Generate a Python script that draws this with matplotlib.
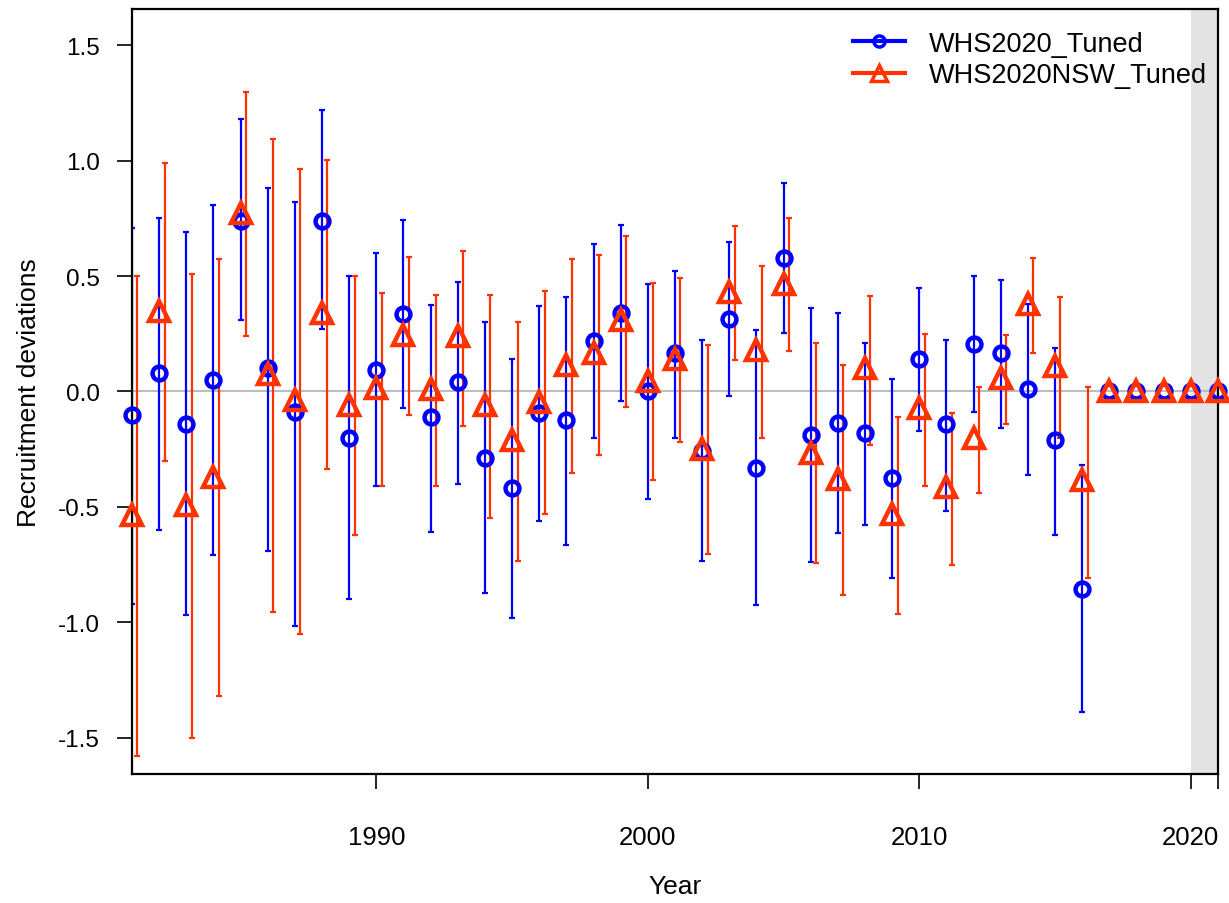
import numpy as np
import matplotlib
matplotlib.use("Agg")
from matplotlib import pyplot as plt
from matplotlib.lines import Line2D

plt.rcParams['font.family'] = ['Liberation Sans', 'DejaVu Sans']

# recruitment deviations by year
years = list(range(1981, 2022))

whs_dev = [-0.10, 0.08, -0.14, 0.05, 0.74, 0.10, -0.09, 0.74, -0.20, 0.095,
           0.335, -0.11, 0.04, -0.29, -0.42, -0.095, -0.125, 0.22, 0.34, 0.0,
           0.165, -0.26, 0.315, -0.33, 0.58, -0.19, -0.135, -0.18, -0.375, 0.14,
           -0.14, 0.205, 0.165, 0.01, -0.21, -0.855, 0, 0, 0, 0, 0]
whs_lo = [-0.92, -0.60, -0.97, -0.71, 0.31, -0.69, -1.015, 0.27, -0.90, -0.41,
          -0.07, -0.61, -0.40, -0.875, -0.98, -0.56, -0.665, -0.20, -0.04, -0.465,
          -0.20, -0.735, -0.02, -0.925, 0.255, -0.74, -0.615, -0.58, -0.81, -0.17,
          -0.52, -0.09, -0.16, -0.36, -0.62, -1.39]
whs_hi = [0.71, 0.75, 0.69, 0.81, 1.18, 0.88, 0.82, 1.22, 0.50, 0.60,
          0.745, 0.375, 0.475, 0.30, 0.14, 0.37, 0.41, 0.64, 0.72, 0.465,
          0.52, 0.225, 0.65, 0.265, 0.905, 0.36, 0.34, 0.21, 0.055, 0.45,
          0.225, 0.50, 0.485, 0.38, 0.19, -0.32]

nsw_dev = [-0.535, 0.35, -0.49, -0.37, 0.775, 0.075, -0.035, 0.34, -0.057, 0.015,
           0.245, 0.01, 0.24, -0.057, -0.21, -0.045, 0.115, 0.165, 0.31, 0.047,
           0.14, -0.25, 0.43, 0.18, 0.465, -0.265, -0.38, 0.10, -0.53, -0.073,
           -0.415, -0.20, 0.06, 0.38, 0.11, -0.385, 0, 0, 0, 0, 0]
nsw_lo = [-1.58, -0.30, -1.50, -1.32, 0.24, -0.957, -1.05, -0.335, -0.62, -0.41,
          -0.10, -0.41, -0.15, -0.55, -0.735, -0.53, -0.355, -0.275, -0.067, -0.385,
          -0.22, -0.705, 0.135, -0.20, 0.175, -0.745, -0.88, -0.23, -0.965, -0.41,
          -0.75, -0.44, -0.14, 0.165, -0.20, -0.81]
nsw_hi = [0.50, 0.99, 0.51, 0.575, 1.30, 1.095, 0.965, 1.005, 0.50, 0.425,
          0.585, 0.42, 0.61, 0.42, 0.30, 0.435, 0.575, 0.59, 0.675, 0.47,
          0.49, 0.20, 0.717, 0.545, 0.75, 0.21, 0.115, 0.415, -0.11, 0.25,
          -0.095, 0.02, 0.245, 0.577, 0.41, 0.02]

names = ["WHS2020_Tuned", "WHS2020NSW_Tuned"]
col_blue = "#0000FF"
col_red = "#FF3300"

fig = plt.figure(figsize=(12.29, 9.04), dpi=100)
ax = fig.add_axes([0.1074, 0.1427, 0.8836, 0.8463])

# forecast years shaded
ax.axvspan(2020, 2021.5, color="#e3e3e3", lw=0, zorder=0)
ax.axhline(0, color="#bdbdbd", lw=1.5, zorder=1)

yrs = np.array(years)
n_bar = len(whs_lo)

# error bars: red ones shifted a little to the right
ax.errorbar(yrs[:n_bar], whs_dev[:n_bar],
            yerr=[np.array(whs_dev[:n_bar]) - np.array(whs_lo), np.array(whs_hi) - np.array(whs_dev[:n_bar])],
            fmt="none", ecolor=col_blue, elinewidth=1.6, capsize=2.2, capthick=1.6, zorder=2)
ax.errorbar(yrs[:n_bar] + 0.2, nsw_dev[:n_bar],
            yerr=[np.array(nsw_dev[:n_bar]) - np.array(nsw_lo), np.array(nsw_hi) - np.array(nsw_dev[:n_bar])],
            fmt="none", ecolor=col_red, elinewidth=1.6, capsize=2.2, capthick=1.6, zorder=2)

ax.plot(yrs, whs_dev, ls="none", marker="o", ms=10, mfc="none", mec=col_blue, mew=3.2, zorder=3, clip_on=False)
ax.plot(yrs, nsw_dev, ls="none", marker="^", ms=14, mfc="none", mec=col_red, mew=3.2, zorder=4, clip_on=False)

ax.set_xlim(1981, 2021)
ax.set_ylim(-1.658, 1.658)
ax.set_xticks([1990, 2000, 2010, 2020, 2021])
ax.set_xticklabels(["1990", "2000", "2010", "2020", ""])
ax.set_yticks([-1.5, -1.0, -0.5, 0.0, 0.5, 1.0, 1.5])
ax.set_yticklabels(["-1.5", "-1.0", "-0.5", "0.0", "0.5", "1.0", "1.5"])
ax.tick_params(axis="both", direction="out", length=11, width=1.2)
ax.tick_params(axis="x", pad=26, labelsize=18.5)
ax.tick_params(axis="y", pad=12, labelsize=17.5)
for s in ax.spines.values():
    s.set_linewidth(1.6)

ax.set_xlabel("Year", fontsize=19, labelpad=18)
ax.set_ylabel("Recruitment deviations", fontsize=19, labelpad=12)

handles = [Line2D([], [], color=col_blue, lw=3, marker="o", ms=8, mfc="none", mew=2.5),
           Line2D([], [], color=col_red, lw=3, marker="^", ms=11, mfc="none", mew=2.5)]
ax.legend(handles, names, loc="upper right", frameon=False, fontsize=19.5,
          handlelength=1.9, handletextpad=0.9, borderaxespad=0.4, labelspacing=0.2,
          bbox_to_anchor=(1.01, 1.0))

fig.savefig("out.png", dpi=100)
